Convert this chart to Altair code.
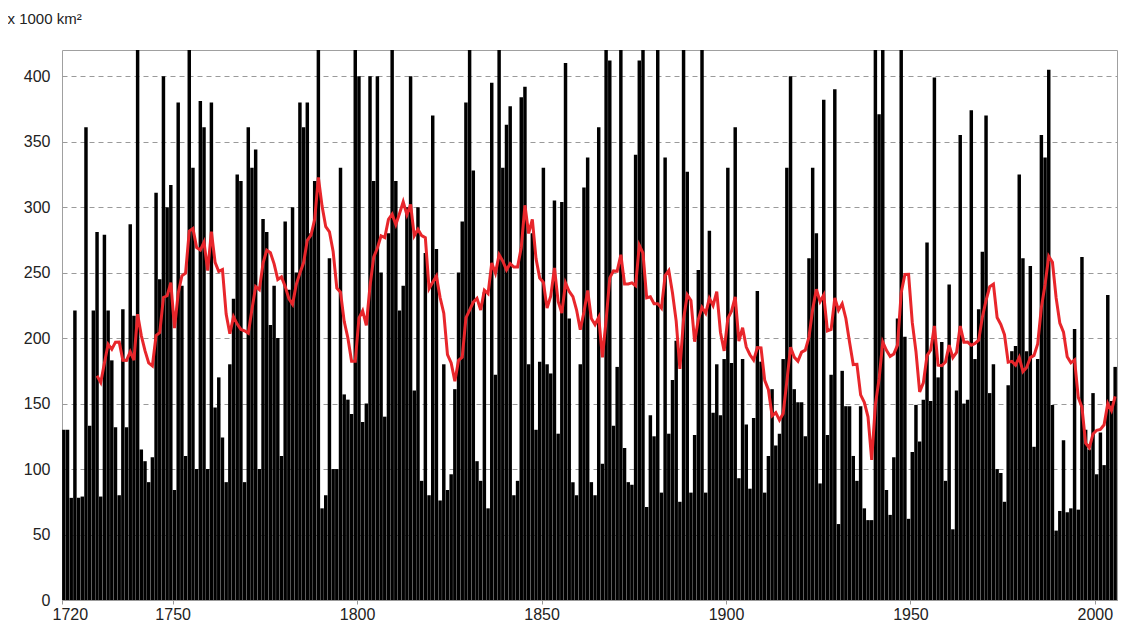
import altair as alt
import pandas as pd

# yearly values (x 1000 km2), by decade
v1720s = [130, 130, 78, 221, 78, 79, 361, 133, 221, 281]
v1730s = [79, 279, 221, 183, 132, 80, 222, 132, 287, 217]
v1740s = [430, 115, 106, 90, 109, 311, 245, 400, 300, 317]
v1750s = [84, 380, 240, 110, 430, 330, 100, 381, 361, 100]
v1760s = [380, 147, 170, 124, 90, 180, 230, 325, 320, 90]
v1770s = [361, 330, 344, 100, 291, 281, 210, 240, 200, 110]
v1780s = [289, 237, 300, 250, 380, 361, 380, 280, 320, 430]
v1790s = [70, 80, 261, 100, 100, 330, 157, 153, 142, 430]
v1800s = [400, 136, 150, 400, 320, 400, 250, 140, 280, 470]
v1810s = [320, 221, 240, 300, 400, 160, 300, 91, 265, 80]
v1820s = [370, 268, 76, 180, 84, 96, 161, 250, 289, 380]
v1830s = [430, 328, 106, 91, 235, 70, 395, 172, 430, 330]
v1840s = [363, 377, 80, 91, 384, 392, 180, 280, 130, 182]
v1850s = [330, 180, 173, 305, 127, 304, 410, 215, 90, 80]
v1860s = [180, 315, 338, 90, 80, 361, 104, 500, 412, 133]
v1870s = [178, 440, 116, 90, 88, 340, 412, 440, 71, 141]
v1880s = [125, 440, 82, 338, 127, 168, 198, 75, 450, 327]
v1890s = [82, 126, 252, 430, 82, 282, 143, 180, 141, 184]
v1900s = [330, 181, 361, 93, 184, 134, 85, 139, 236, 182]
v1910s = [82, 110, 161, 118, 127, 184, 330, 400, 161, 151]
v1920s = [151, 125, 261, 330, 280, 89, 382, 126, 172, 390]
v1930s = [58, 175, 148, 148, 110, 91, 148, 70, 61, 61]
v1940s = [480, 371, 430, 84, 65, 109, 215, 470, 201, 62]
v1950s = [113, 149, 121, 153, 273, 152, 399, 170, 197, 91]
v1960s = [241, 54, 160, 355, 150, 153, 374, 184, 222, 266]
v1970s = [370, 158, 180, 100, 97, 75, 164, 190, 194, 325]
v1980s = [261, 190, 255, 117, 184, 355, 338, 405, 149, 53]
v1990s = [68, 122, 67, 70, 207, 69, 262, 130, 115, 158]
v2000s = [96, 128, 103, 233, 152, 178]

first_year = 1720
x_ticks = [1720, 1750, 1800, 1850, 1900, 1950, 2000]
y_ticks = [0, 50, 100, 150, 200, 250, 300, 350, 400]
y_title = "x 1000 km²"

amounts = (v1720s + v1730s + v1740s + v1750s + v1760s + v1770s + v1780s + v1790s
           + v1800s + v1810s + v1820s + v1830s + v1840s + v1850s + v1860s + v1870s
           + v1880s + v1890s + v1900s + v1910s + v1920s + v1930s + v1940s + v1950s
           + v1960s + v1970s + v1980s + v1990s + v2000s)
years = list(range(first_year, first_year + len(amounts)))

df = pd.DataFrame({"year": years, "area": amounts})

FONT = "Liberation Sans"
xscale = alt.Scale(domain=[first_year, years[-1] + 1], nice=False, zero=False)
yscale = alt.Scale(domain=[0, 420], nice=False)

base = alt.Chart(df)

bars = base.transform_calculate(
    x0="datum.year + 0.03", x1="datum.year + 0.97"
).mark_bar(color="black", clip=True).encode(
    x=alt.X("x0:Q", scale=xscale, title=None,
            axis=alt.Axis(values=x_ticks, format="d", grid=False,
                          labelFontSize=16, labelColor="#222", labelFont=FONT,
                          labelPadding=2, tickSize=4, tickColor="#999",
                          domainColor="#999", labelFlush=True,
                          labelFlushOffset=10)),
    x2="x1:Q",
    y=alt.Y("area:Q", scale=yscale,
            axis=alt.Axis(values=y_ticks, ticks=False, labelPadding=12,
                          labelFontSize=16, labelColor="#222", labelFont=FONT,
                          domain=False, grid=True, gridColor="#9a9a9a",
                          gridDash=[5, 4], gridWidth=1,
                          title=y_title, titleAngle=0, titleAlign="left",
                          titleBaseline="middle", titleX=-55, titleY=-32,
                          titleFontSize=15, titleFontWeight="normal",
                          titleFont=FONT, titleColor="#222")),
    y2=alt.datum(0),
)

line = base.transform_window(
    ma="mean(area)", n="count()", frame=[-9, 0], sort=[alt.SortField("year")]
).transform_filter("datum.n == 10").transform_calculate(
    xc="datum.year + 0.5"
).mark_line(color="#e8262b", strokeWidth=3, clip=True).encode(
    x=alt.X("xc:Q", scale=xscale),
    y=alt.Y("ma:Q", scale=yscale),
)

chart = alt.layer(bars, line).properties(
    width=1055, height=550,
    padding={"left": 54, "top": 42, "right": 14, "bottom": 29},
    autosize=alt.AutoSizeParams(type="none"),
).configure_view(stroke="#a0a0a0", strokeWidth=1)

chart.save("out.html", embed_options={"renderer": "svg", "actions": False})
